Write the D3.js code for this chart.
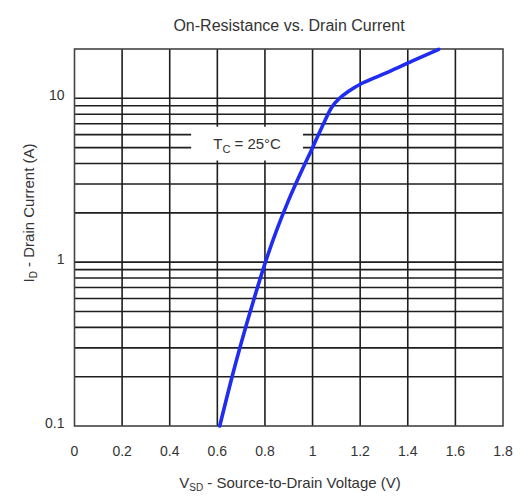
<!DOCTYPE html>
<html>
<head>
<meta charset="utf-8">
<script src="https://cdn.jsdelivr.net/npm/d3@7"></script>
<style>
  body { margin: 0; background: #fff; }
  text { font-family: 'Liberation Sans', Arial, sans-serif; fill: #333; }
</style>
</head>
<body>
<div id="chart"></div>
<script>
const W = 531
const H = 496
const margin = { top: 49, right: 28, bottom: 70, left: 74.5 }
const innerW = W - margin.left - margin.right
const innerH = H - margin.top - margin.bottom

// 坐标刻度
const xTicks = [0, 0.2, 0.4, 0.6, 0.8, 1, 1.2, 1.4, 1.6, 1.8]
const xTickLabels = ['0', '0.2', '0.4', '0.6', '0.8', '1', '1.2', '1.4', '1.6', '1.8']
const yDomain = [0.1, 20]
const yLabelValues = [0.1, 1, 10]
const yLabels = ['0.1', '1', '10']
const yGridValues = [0.2, 0.3, 0.4, 0.5, 0.6, 0.7, 0.8, 0.9, 1, 2, 3, 4, 5, 6, 7, 8, 9, 10]

// 曲线数据 (V, A)
const vsd = [0.61, 0.66, 0.70, 0.75, 0.80, 0.85, 0.90, 0.95, 1.00, 1.05, 1.08, 1.11, 1.15, 1.21, 1.32, 1.42, 1.53]
const idc = [0.1, 0.195, 0.32, 0.57, 0.98, 1.58, 2.4, 3.5, 5.0, 7.2, 8.8, 9.9, 11.0, 12.4, 14.5, 16.9, 19.9]

const svg = d3.select('#chart').append('svg').attr('width', W).attr('height', H)
const g = svg.append('g').attr('transform', `translate(${margin.left},${margin.top})`)

const xScale = d3.scaleLinear().domain([0, 1.8]).range([0, innerW])
const yScale = d3.scaleLog().domain(yDomain).range([innerH, 0])

// 网格
const gridColor = '#1e1e1e'
g.append('g')
  .selectAll('line')
  .data(xTicks.slice(1, -1))
  .join('line')
  .attr('x1', d => xScale(d))
  .attr('x2', d => xScale(d))
  .attr('y1', 0)
  .attr('y2', innerH)
  .attr('stroke', gridColor)
  .attr('stroke-width', 1.6)

g.append('g')
  .selectAll('line')
  .data(yGridValues)
  .join('line')
  .attr('x1', 0)
  .attr('x2', innerW)
  .attr('y1', d => yScale(d))
  .attr('y2', d => yScale(d))
  .attr('stroke', gridColor)
  .attr('stroke-width', 1.6)

// 边框
g.append('rect')
  .attr('width', innerW)
  .attr('height', innerH)
  .attr('fill', 'none')
  .attr('stroke', '#444')
  .attr('stroke-width', 1.6)

// 温度标注（白底遮住网格）
const boxX0 = xScale(0.49)
const boxX1 = xScale(0.96)
const boxY0 = yScale(7) + 3
const boxY1 = yScale(4) - 3
g.append('rect')
  .attr('x', boxX0)
  .attr('y', boxY0)
  .attr('width', boxX1 - boxX0)
  .attr('height', boxY1 - boxY0)
  .attr('fill', '#fff')

const tcLabel = g.append('text')
  .attr('x', (boxX0 + boxX1) / 2)
  .attr('y', (boxY0 + boxY1) / 2 + 5)
  .attr('text-anchor', 'middle')
  .attr('font-size', 15)
tcLabel.append('tspan').text('T')
tcLabel.append('tspan').attr('font-size', 11).attr('dy', 4).text('C')
tcLabel.append('tspan').attr('dy', -4).text(' = 25°C')

// 曲线
const pts = vsd.map((v, i) => [v, idc[i]])
const line = d3.line()
  .x(d => xScale(d[0]))
  .y(d => yScale(d[1]))
  .curve(d3.curveCatmullRom)
g.append('path')
  .datum(pts)
  .attr('fill', 'none')
  .attr('stroke', '#1f2cf2')
  .attr('stroke-width', 3.6)
  .attr('stroke-linecap', 'round')
  .attr('d', line)

// 坐标轴文字
g.append('g')
  .selectAll('text')
  .data(xTicks)
  .join('text')
  .attr('x', d => xScale(d))
  .attr('y', innerH + 30)
  .attr('text-anchor', 'middle')
  .attr('font-size', 14)
  .text((d, i) => xTickLabels[i])

g.append('g')
  .selectAll('text')
  .data(yLabelValues)
  .join('text')
  .attr('x', -10)
  .attr('y', d => yScale(d) + 2)
  .attr('text-anchor', 'end')
  .attr('font-size', 14)
  .text((d, i) => yLabels[i])

// 标题
svg.append('text')
  .attr('x', 289)
  .attr('y', 31)
  .attr('text-anchor', 'middle')
  .attr('font-size', 16)
  .text('On-Resistance vs. Drain Current')

const xLabel = svg.append('text')
  .attr('x', 290)
  .attr('y', 488)
  .attr('text-anchor', 'middle')
  .attr('font-size', 15)
xLabel.append('tspan').text('V')
xLabel.append('tspan').attr('font-size', 10).attr('dy', 3).text('SD')
xLabel.append('tspan').attr('dy', -3).text(' - Source-to-Drain Voltage (V)')

const yLabel = svg.append('text')
  .attr('transform', 'translate(34,213) rotate(-90)')
  .attr('text-anchor', 'middle')
  .attr('font-size', 15)
yLabel.append('tspan').text('I')
yLabel.append('tspan').attr('font-size', 10).attr('dy', 3).text('D')
yLabel.append('tspan').attr('dy', -3).text(' - Drain Current (A)')
</script>
</body>
</html>
